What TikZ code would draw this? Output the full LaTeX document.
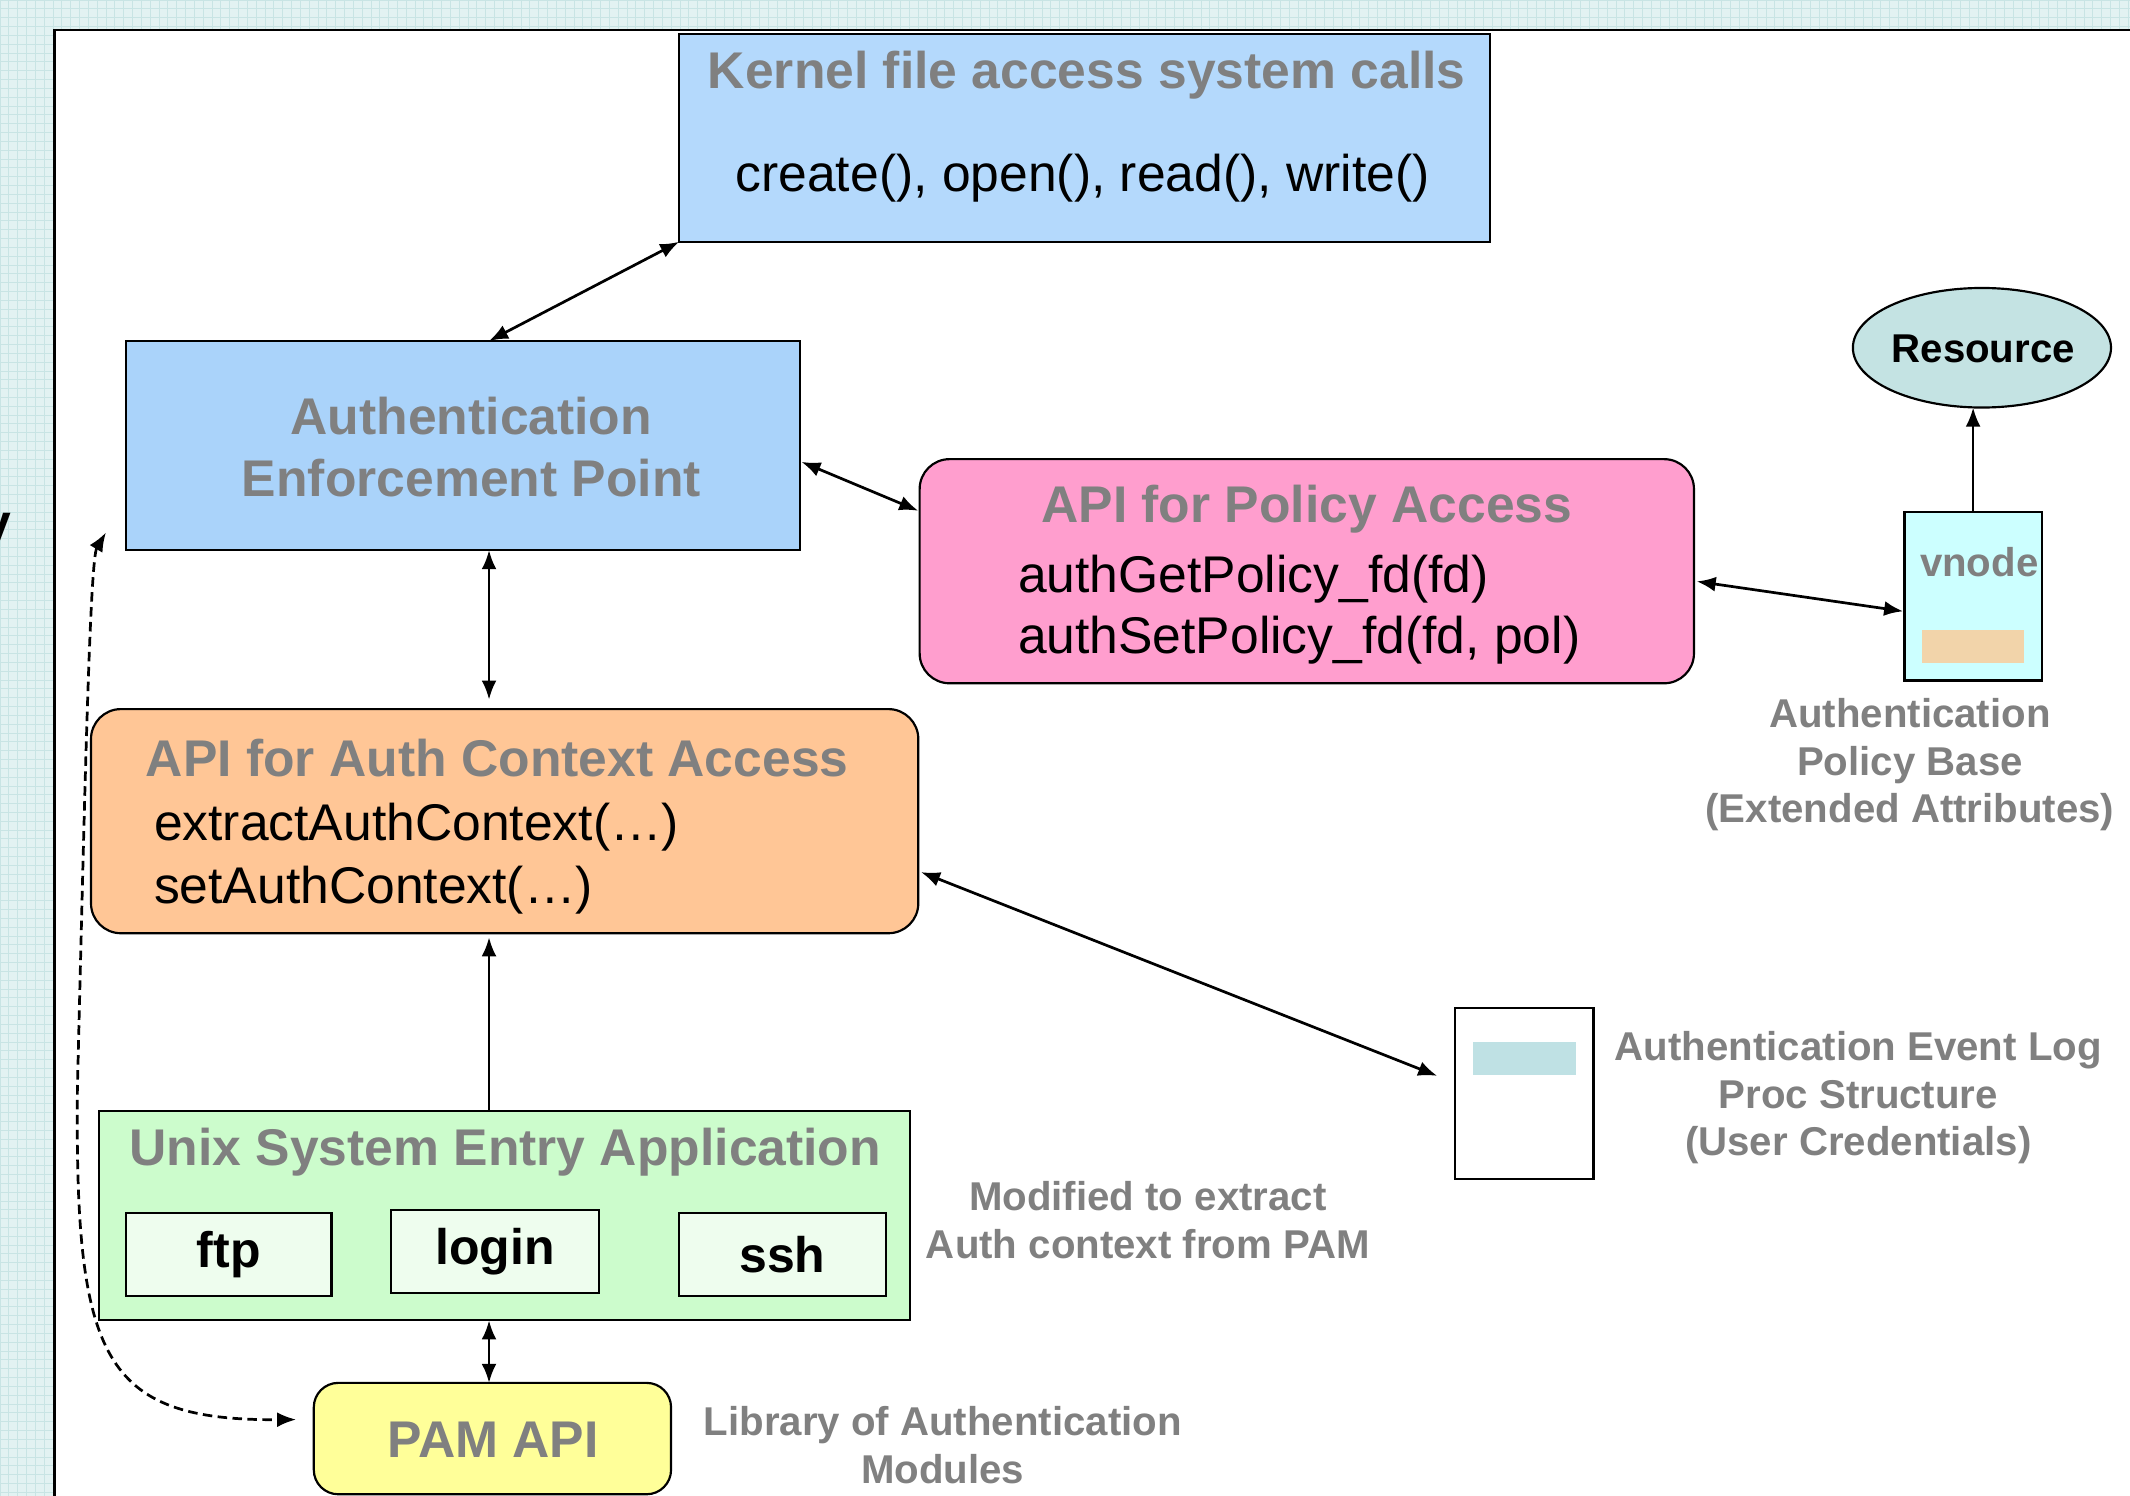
\documentclass[tikz,border=0pt]{standalone}
\usepackage{fontspec}
\setmainfont{Liberation Sans}
\usetikzlibrary{arrows.meta,calc,shapes.geometric}

\definecolor{bgcyan}{HTML}{E2F2F2}
\definecolor{bggrid}{HTML}{C8E4E4}
\definecolor{kernblue}{HTML}{B4D9FC}
\definecolor{aepblue}{HTML}{AAD3FA}
\definecolor{policypink}{HTML}{FF9ECE}
\definecolor{ctxorange}{HTML}{FFC696}
\definecolor{entrygreen}{HTML}{CCFCCC}
\definecolor{appgreen}{HTML}{EEFDEE}
\definecolor{pamyellow}{HTML}{FFFF99}
\definecolor{resteal}{HTML}{C4E3E3}
\definecolor{vnodecyan}{HTML}{CCFFFF}
\definecolor{attrtan}{HTML}{F2D4AA}
\definecolor{credteal}{HTML}{BFE1E4}
\definecolor{labelgray}{HTML}{808080}

\newcommand{\bigsize}{\fontsize{19}{23}\selectfont}
\newcommand{\smallsize}{\fontsize{14.8}{17.5}\selectfont}

\begin{document}
\begin{tikzpicture}[x=0.5pt,y=-0.5pt,
  sz/.style 2 args={minimum width=#1*0.5pt, minimum height=#2*0.5pt},
  box/.style={draw=black, line width=0.8pt, inner sep=0pt, outer sep=0pt},
  title/.style={text=labelgray, font=\bigsize\bfseries, inner sep=0pt},
  code/.style={text=black, font=\bigsize, inner sep=0pt},
  note/.style={text=labelgray, font=\smallsize\bfseries, align=center, inner sep=0pt},
  appbox/.style={box, fill=appgreen, font=\fontsize{18.4}{22}\selectfont\bfseries},
  tip/.tip={Latex[length=7pt,width=5.5pt]},
  link/.style={line width=1pt, tip-tip},
  uplink/.style={line width=1pt, -tip},
]
\useasboundingbox (0,0) rectangle (1568,1101);
\clip (0,0) rectangle (1568,1101);

% grid paper backdrop
\fill[bgcyan] (0,0) rectangle (1568,1101);
\foreach \gx in {0,6.5,...,1568} \draw[bggrid, line width=0.25pt] (\gx,0) -- (\gx,1101);
\foreach \gy in {0,6.5,...,1101} \draw[bggrid, line width=0.25pt] (0,\gy) -- (1568,\gy);

% white drawing panel
\draw[line width=0.9pt, fill=white] (40,22) rectangle (1590,1120);
\node[font=\bigsize\bfseries, text=black, inner sep=0pt, anchor=base east] (edgey) at (9,398) {y};

% kernel system calls
\node[box, fill=kernblue, sz={597}{153}] (kern) at (798.5,101.5) {};
\node[title] (kerntitle) at (800,55) {Kernel file access system calls};
\node[code] (kerncalls) at (797,131) {create(), open(), read(), write()};

% enforcement point
\node[box, fill=aepblue, sz={496}{154}] (aep) at (341,328) {};
\node[title, align=center] (aeptext) at (347,329) {Authentication\\Enforcement Point};

% policy access API
\node[box, fill=policypink, rounded corners=11pt, sz={570}{165}] (pol) at (962,420.5) {};
\node[title] (poltitle) at (962,375) {API for Policy Access};
\node[code, align=left, anchor=west, font=\fontsize{19}{22.5}\selectfont] (polcalls) at (749,448.5) {authGetPolicy\_fd(fd)\\authSetPolicy\_fd(fd, pol)};

% resource and vnode
\node[box, fill=resteal, ellipse, sz={190}{88}] (res) at (1459,256) {};
\node[text=black, font=\smallsize\bfseries, inner sep=0pt] (restext) at (1460,257) {Resource};
\node[box, fill=vnodecyan, sz={101}{124}] (vnode) at (1452.5,439) {};
\node[note] (vnodetext) at (1457,414) {vnode};
\node[fill=attrtan, sz={75}{24}, inner sep=0pt] (attr) at (1452.5,476) {};
\node[note] (pbase) at (1406,563) {Authentication\\Policy Base\\(Extended Attributes)};

% auth context API
\node[box, fill=ctxorange, rounded corners=11pt, sz={609}{165}] (ctx) at (371.5,604.5) {};
\node[title] (ctxtitle) at (366,558) {API for Auth Context Access};
\node[code, align=left, anchor=west] (ctxcalls) at (113,632) {extractAuthContext(…)\\setAuthContext(…)};

% proc structure
\node[box, fill=white, sz={102}{126}] (log) at (1122,805) {};
\node[fill=credteal, sz={76}{24}, inner sep=0pt] (cred) at (1122,779) {};
\node[note] (logtext) at (1368,808) {Authentication Event Log\\Proc Structure\\(User Credentials)};

% entry applications
\node[box, fill=entrygreen, sz={597}{154}] (entry) at (371.5,895) {};
\node[title] (entrytitle) at (372,848) {Unix System Entry Application};
\node[appbox, sz={151}{61}] (ftp) at (168.5,923.5) {ftp};
\node[appbox, sz={153}{61}] (login) at (364.5,921.5) {login};
\node[appbox, sz={152}{61}] (ssh) at (576,923.5) {ssh};
\node[note] (modnote) at (845,898) {Modified to extract\\Auth context from PAM};

% PAM
\node[box, fill=pamyellow, rounded corners=9pt, sz={263}{82}] (pam) at (362.5,1059) {};
\node[title] (pamtext) at (363,1060) {PAM API};
\node[note] (libnote) at (694,1064) {Library of Authentication\\Modules};

% connectors
\draw[link] (kern.south west) -- ($(aep.north)+(19,0)$);
\draw[link] ($(aep.east)+(1,12)$) -- ($(pol.west)+(-1,-44.5)$);
\draw[link] ($(pol.east)+(2,7.5)$) -- ($(vnode.west)+(-1,11)$);
\draw[uplink] (vnode.north) -- (vnode.north |- res.south);
\draw[link] ($(aep.south)+(19,0)$) -- ($(ctx.north)+(-11.5,-7)$);
\draw[uplink] ($(entry.north)+(-11.5,0)$) -- ($(ctx.south)+(-11.5,3)$);
\draw[link] ($(ctx.east)+(2,37.5)$) -- ($(log.west)+(-13,-13)$);
\draw[link] ($(entry.south)+(-11.5,0)$) -- ($(pam.north)+(-2.5,0)$);
\draw[link, dash pattern=on 3.5pt off 2pt] ($(aep.south west)+(-15,-13)$)
  .. controls (66,412) and (62,600) .. (57,800)
  .. controls (55,1000) and (75,1046) .. ($(pam.west)+(-13,-14)$);
\end{tikzpicture}
\end{document}
